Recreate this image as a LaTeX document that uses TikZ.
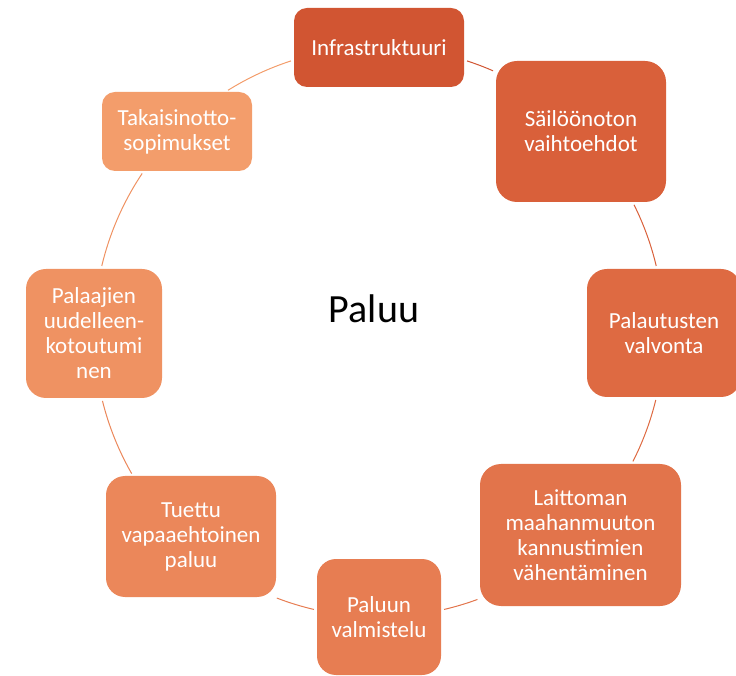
\documentclass[tikz,border=0pt]{standalone}
\usepackage{fontspec}
\setmainfont{Carlito}
\definecolor{cA}{HTML}{D15532}
\definecolor{cB}{HTML}{D9603A}
\definecolor{cC}{HTML}{DE6A42}
\definecolor{cD}{HTML}{E2744B}
\definecolor{cE}{HTML}{E77D52}
\definecolor{cF}{HTML}{EB875A}
\definecolor{cG}{HTML}{EF9262}
\definecolor{cH}{HTML}{F39D6B}
\begin{document}
\begin{tikzpicture}[x=1pt,y=1pt,
  box/.style={align=center, text=white, font=\fontsize{23}{25}\selectfont, inner sep=0pt},
  ring/.style={line width=1pt}]
\useasboundingbox (0,0) rectangle (736,675);
\coordinate (O) at (379,343);
% ring arcs between the boxes
\draw[ring, draw=cA] (O) ++(72.0:285pt) arc[start angle=72.0, end angle=66.4, radius=285pt];
\draw[ring, draw=cB] (O) ++(26.5:285pt) arc[start angle=26.5, end angle=13.4, radius=285pt];
\draw[ring, draw=cC] (O) ++(-13.8:285pt) arc[start angle=-13.8, end angle=-27.0, radius=285pt];
\draw[ring, draw=cD] (O) ++(-69.8:285pt) arc[start angle=-69.8, end angle=-76.8, radius=285pt];
\draw[ring, draw=cE] (O) ++(-103.2:285pt) arc[start angle=-103.2, end angle=-111.0, radius=285pt];
\draw[ring, draw=cF] (O) ++(-150.2:285pt) arc[start angle=-150.2, end angle=-166.0, radius=285pt];
\draw[ring, draw=cG] (O) ++(166.6:285pt) arc[start angle=166.6, end angle=146.2, radius=285pt];
\draw[ring, draw=cH] (O) ++(122.0:285pt) arc[start angle=122.0, end angle=108.0, radius=285pt];
% boxes
\node[box, fill=cA, minimum width=170pt, minimum height=79pt, rounded corners=13pt] (A) at (379,627.5) {Infrastruktuuri};
\node[box, fill=cB, minimum width=170pt, minimum height=141pt, rounded corners=21pt] (B) at (581,543.5) {Säilöönoton\\vaihtoehdot};
\node[box, fill=cC, minimum width=154pt, minimum height=128pt, rounded corners=20pt] (C) at (664,342) {Palautusten\\valvonta};
\node[box, fill=cD, minimum width=201pt, minimum height=142pt, rounded corners=21pt] (D) at (580.5,140) {Laittoman\\maahanmuuton\\kannustimien\\vähentäminen};
\node[box, fill=cE, minimum width=124pt, minimum height=116pt, rounded corners=19pt] (E) at (379,58) {Paluun\\valmistelu};
\node[box, fill=cF, minimum width=170pt, minimum height=121pt, rounded corners=19pt] (F) at (191,138.5) {Tuettu\\vapaaehtoinen\\paluu};
\node[box, fill=cG, minimum width=136pt, minimum height=129pt, rounded corners=20pt] (G) at (94,341.5) {Palaajien\\uudelleen-\\kotoutumi\\nen};
\node[box, fill=cH, minimum width=150pt, minimum height=79pt, rounded corners=13pt] (H) at (177,543.5) {Takaisinotto-\\sopimukset};
% title
\node[font=\fontsize{40}{48}\selectfont, text=black, inner sep=0pt] (T) at (374,366) {Paluu};
\end{tikzpicture}
\end{document}
